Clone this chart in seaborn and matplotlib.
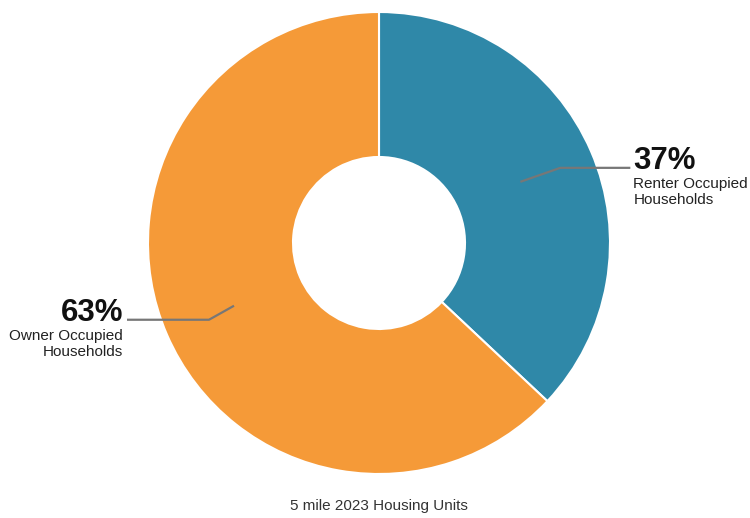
import matplotlib
matplotlib.use("Agg")
import matplotlib.pyplot as plt
import seaborn as sns
import numpy as np

categories = ["Renter Occupied\nHouseholds", "Owner Occupied\nHouseholds"]
values = [37, 63]
colors = ["#2f88a8", "#f59a38"]
title = "5 mile 2023 Housing Units"

sns.set_theme(style="white")
plt.rcParams['font.family'] = ['Liberation Sans', 'DejaVu Sans']

W, H = 750, 518
fig = plt.figure(figsize=(7.5, 5.18), dpi=100)
ax = fig.add_axes([0, 0, 1, 1])

cx, cy, R, r = 379, H - 243, 231, 86
wedges, _ = ax.pie(values, colors=colors, startangle=90, counterclock=False,
                   center=(cx, cy), radius=R, frame=True,
                   wedgeprops=dict(width=R - r, edgecolor='white', linewidth=1.5))
ax.set_xlim(0, W)
ax.set_ylim(0, H)
ax.set_aspect('equal')
ax.axis('off')

total = sum(values)
start = 90
for i, (lab, v) in enumerate(zip(categories, values)):
    ang = start - v / total * 360 / 2
    start -= v / total * 360
    a = np.deg2rad(ang)
    side = 1 if np.cos(a) > 0 else -1
    rr = 154 if side > 0 else 158
    px, py = cx + rr * np.cos(a), cy + rr * np.sin(a)
    if side > 0:
        ex, ey = px + 40, py + 14
        tx = ex + 70
        xt = tx + 3
        ha = 'left'
    else:
        ex, ey = px - 25, py - 14
        tx = ex - 82
        xt = tx - 4
        ha = 'right'
    ax.plot([px, ex, tx], [py, ey, ey], color='#777777', lw=1.6, solid_capstyle='butt')
    ax.text(xt, ey - 1, f"{v}%", ha=ha, va='baseline', fontsize=22.5, fontweight='bold', color='#111111')
    ax.text(xt, ey - 9.5, lab, ha=ha, va='top', fontsize=11, color='#222222', linespacing=1.15)

ax.text(cx, H - 506, title, ha='center', va='center', fontsize=11, color='#333333')

fig.savefig("out.png", dpi=100)
